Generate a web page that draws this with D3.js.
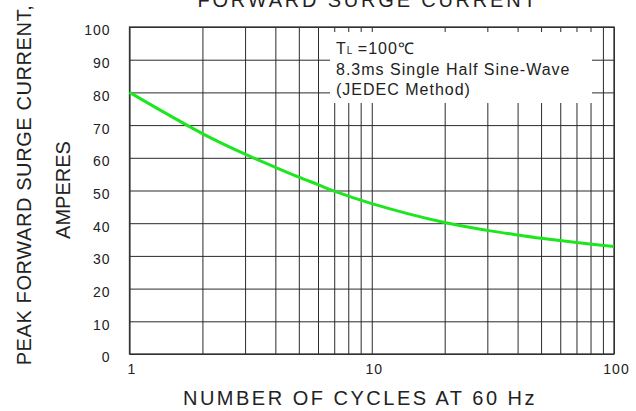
<!DOCTYPE html>
<html>
<head>
<meta charset="utf-8">
<script src="https://cdn.jsdelivr.net/npm/d3@7"></script>
<style>
    body { margin: 0; background: #fff; }
    svg { display: block; font-family: "Liberation Sans", Arial, sans-serif; }
    .grid line { stroke: #2a2a2a; stroke-width: 1; }
    .grid path { display: none; }
    .tickLabel text { font-size: 14px; letter-spacing: 1px; fill: #222; }
    .tickLabel path, .tickLabel line { display: none; }
</style>
</head>
<body>
<script>
(function () {

    //curve
    var cycles = [1, 2, 3, 4, 5, 6, 7, 10, 20, 30, 40, 50, 70, 100];
    var amps = [80, 67.4, 61.1, 57.1, 54.1, 51.8, 49.8, 46, 40.2, 37.8, 36.4, 35.4, 34.1, 32.9];

    //grid and tick labels
    var xGrid = [1, 2, 3, 4, 5, 6, 7, 8, 9, 10, 20, 30, 40, 50, 60, 70, 80, 90, 100];
    var xTicks = [1, 10, 100];
    var yTicks = [0, 10, 20, 30, 40, 50, 60, 70, 80, 90, 100];

    var noteLines = ["8.3ms Single Half Sine-Wave", "(JEDEC Method)"];

    var width = 636,
        height = 411,
        left = 129.5,
        right = 614,
        top = 27,
        bottom = 354;

    var svg = d3.select("body")
        .append("svg")
        .attr("width", width)
        .attr("height", height);

    var x = d3.scaleLog()
        .domain([1, 100])
        .range([left, right]);

    var y = d3.scaleLinear()
        .domain([0, 100])
        .range([bottom, top]);

    //vertical grid lines
    svg.append("g")
        .attr("class", "grid")
        .attr("transform", "translate(0," + bottom + ")")
        .call(d3.axisBottom(x).tickValues(xGrid).tickSize(-(bottom - top)).tickFormat(""));

    //horizontal grid lines
    svg.append("g")
        .attr("class", "grid")
        .attr("transform", "translate(" + left + ",0)")
        .call(d3.axisLeft(y).tickValues(yTicks).tickSize(-(right - left)).tickFormat(""));

    //frame
    svg.append("rect")
        .attr("x", left)
        .attr("y", top)
        .attr("width", right - left)
        .attr("height", bottom - top)
        .attr("fill", "none")
        .attr("stroke", "#333")
        .attr("stroke-width", 1.3);

    //note box covers the grid
    svg.append("rect")
        .attr("x", 330)
        .attr("y", 32)
        .attr("width", 262)
        .attr("height", 71)
        .attr("fill", "#fff");

    var note = svg.append("g")
        .attr("font-size", 16)
        .attr("letter-spacing", "1px")
        .attr("fill", "#222");

    var first = note.append("text")
        .attr("x", 336)
        .attr("y", 53.5);
    first.append("tspan").text("T");
    first.append("tspan").attr("font-size", 10).attr("letter-spacing", "0px").text("L");
    first.append("tspan").text(" =100\u2103");

    note.selectAll(".noteLine")
        .data(noteLines)
        .enter()
        .append("text")
        .attr("class", "noteLine")
        .attr("x", 336)
        .attr("y", function (d, i) { return 74.5 + i * 20; })
        .text(function (d) { return d; });

    //surge curve
    var line = d3.line()
        .x(function (d, i) { return x(cycles[i]); })
        .y(function (d) { return y(d); })
        .curve(d3.curveCatmullRom.alpha(0.5));

    svg.append("path")
        .datum(amps)
        .attr("d", line)
        .attr("fill", "none")
        .attr("stroke", "#1ee61e")
        .attr("stroke-width", 3);

    //tick labels
    svg.append("g")
        .attr("class", "tickLabel")
        .attr("transform", "translate(" + left + ",3.5)")
        .call(d3.axisLeft(y).tickValues(yTicks).tickSize(0).tickPadding(19));

    svg.append("g")
        .attr("class", "tickLabel")
        .attr("transform", "translate(2," + bottom + ")")
        .call(d3.axisBottom(x).tickValues(xTicks).tickSize(0).tickPadding(10).tickFormat(d3.format("d")));

    //titles
    svg.append("text")
        .attr("x", 368)
        .attr("y", 7)
        .attr("text-anchor", "middle")
        .attr("font-size", 20)
        .attr("letter-spacing", "2.8px")
        .attr("fill", "#222")
        .text("FORWARD SURGE CURRENT");

    svg.append("text")
        .attr("x", 360)
        .attr("y", 405)
        .attr("text-anchor", "middle")
        .attr("font-size", 20)
        .attr("letter-spacing", "2.5px")
        .attr("fill", "#222")
        .text("NUMBER OF CYCLES AT 60 Hz");

    svg.append("text")
        .attr("transform", "translate(31,185) rotate(-90)")
        .attr("text-anchor", "middle")
        .attr("font-size", 20)
        .attr("letter-spacing", "0.6px")
        .attr("fill", "#222")
        .text("PEAK FORWARD SURGE CURRENT,");

    svg.append("text")
        .attr("transform", "translate(70,190) rotate(-90)")
        .attr("text-anchor", "middle")
        .attr("font-size", 20)
        .attr("fill", "#222")
        .text("AMPERES");
})();
</script>
</body>
</html>
